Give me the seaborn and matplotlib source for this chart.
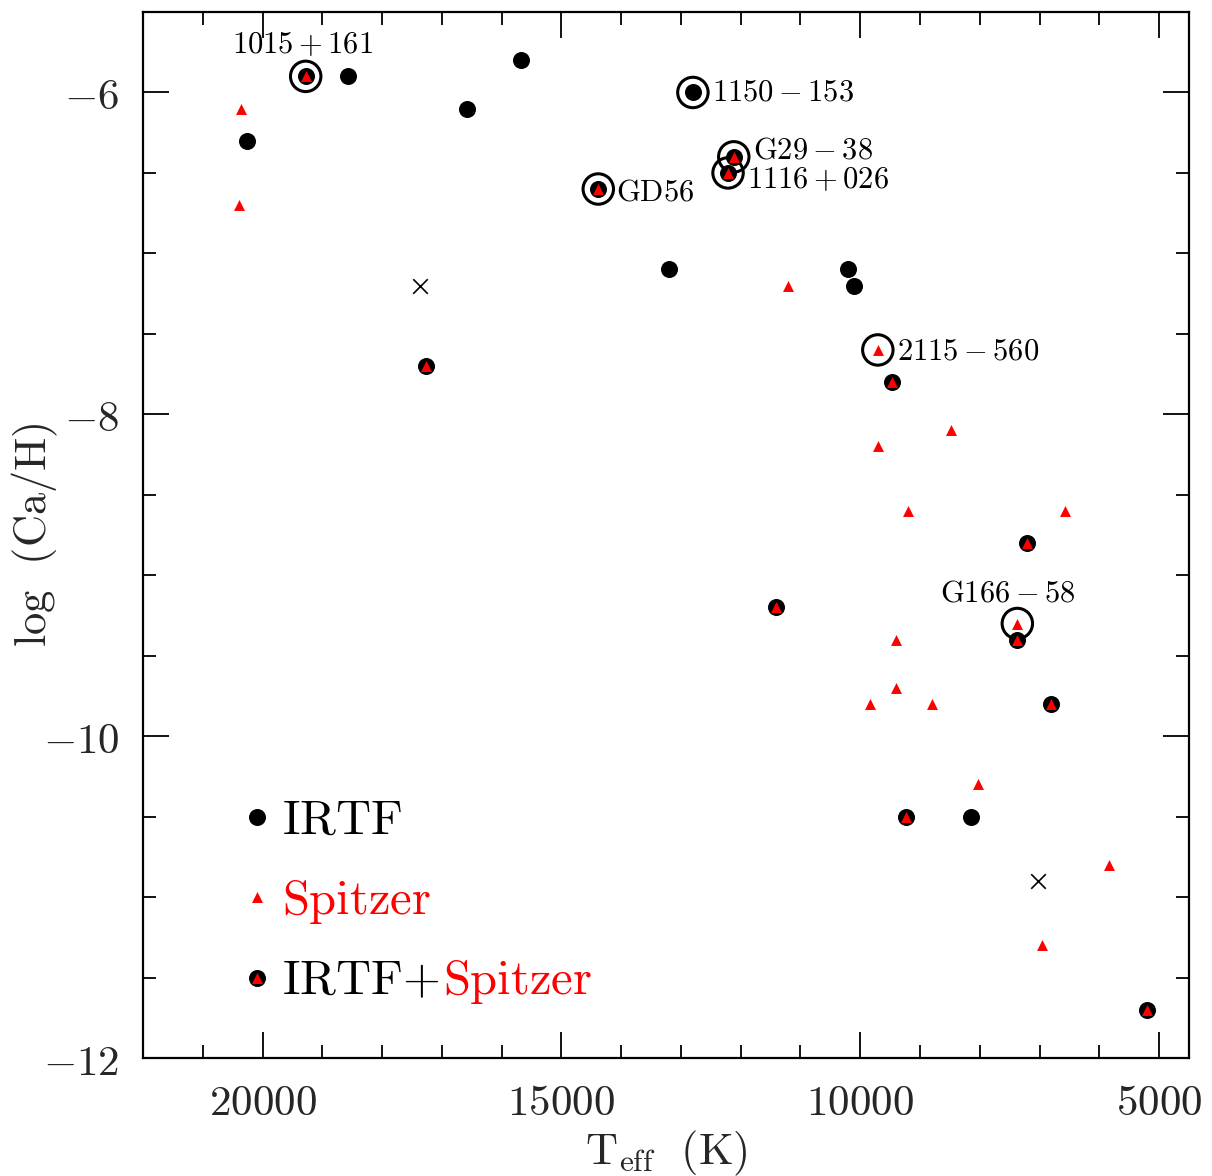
import matplotlib
matplotlib.use("Agg")
import matplotlib.pyplot as plt
import seaborn as sns
import pandas as pd
from matplotlib.ticker import MultipleLocator

# ---------------- data ----------------
irtf_teff = [18572, 20262, 16572, 15672, 12800, 13203, 10211, 10102, 8150]
irtf_ca = [-5.90, -6.30, -6.10, -5.80, -6.00, -7.10, -7.10, -7.20, -10.50]

spitzer_teff = [20367, 20395, 11202, 9706, 8483, 9695, 9195, 6578, 7372,
                9395, 9395, 9845, 8795, 8030, 5840, 6955]
spitzer_ca = [-6.10, -6.70, -7.20, -7.60, -8.10, -8.20, -8.60, -8.60, -9.30,
              -9.40, -9.70, -9.80, -9.80, -10.30, -10.80, -11.30]

both_teff = [19278, 17272, 14383, 12116, 12212, 9476, 7205, 11412, 7378,
             6805, 9230, 5205]
both_ca = [-5.90, -7.70, -6.60, -6.40, -6.50, -7.80, -8.80, -9.20, -9.40,
           -9.80, -10.50, -11.70]

cross_teff = [17372, 7033]
cross_ca = [-7.20, -10.90]

circled_names = ["1015+161", "1150-153", "G29-38", "1116+026", "GD56",
                 "2115-560", "G166-58"]
circled_teff = [19278, 12800, 12116, 12212, 14383, 9706, 7372]
circled_ca = [-5.90, -6.00, -6.40, -6.50, -6.60, -7.60, -9.30]

x_ticks = [20000, 15000, 10000, 5000]
x_tick_labels = ["20000", "15000", "10000", "5000"]
y_ticks = [-12, -10, -8, -6]
y_tick_labels = ["-12", "-10", "-8", "-6"]

legend_teff = [20100, 20100, 20100]
legend_ca = [-10.5, -11.0, -11.5]

# ---------------- style ----------------
sns.set_theme(style="ticks")
plt.rcParams["mathtext.fontset"] = "cm"
plt.rcParams["font.family"] = ["DejaVu Serif"]

fig = plt.figure(figsize=(12.12, 11.76), dpi=100)
ax = fig.add_axes([143 / 1212, 1 - 1058 / 1176, (1189 - 143) / 1212, (1058 - 12) / 1176])

dot_s = 150
tri_s = 62
ring_s = 480

df_irtf = pd.DataFrame({"teff": irtf_teff, "ca": irtf_ca})
df_sp = pd.DataFrame({"teff": spitzer_teff, "ca": spitzer_ca})
df_both = pd.DataFrame({"teff": both_teff, "ca": both_ca})
df_cross = pd.DataFrame({"teff": cross_teff, "ca": cross_ca})
df_circ = pd.DataFrame({"teff": circled_teff, "ca": circled_ca})

sns.scatterplot(data=df_circ, x="teff", y="ca", ax=ax, marker="o", s=ring_s,
                facecolor="none", edgecolor="black", linewidth=2.2, zorder=2)
sns.scatterplot(data=df_irtf, x="teff", y="ca", ax=ax, marker="o", s=dot_s,
                color="black", edgecolor="black", linewidth=0, zorder=3)
sns.scatterplot(data=df_both, x="teff", y="ca", ax=ax, marker="o", s=dot_s,
                color="black", edgecolor="black", linewidth=0, zorder=3)
sns.scatterplot(data=df_both, x="teff", y="ca", ax=ax, marker="^", s=tri_s,
                color="red", edgecolor="red", linewidth=0, zorder=4)
sns.scatterplot(data=df_sp, x="teff", y="ca", ax=ax, marker="^", s=tri_s,
                color="red", edgecolor="red", linewidth=0, zorder=4)
sns.scatterplot(data=df_cross, x="teff", y="ca", ax=ax, marker="x", s=110,
                color="black", linewidth=1.2, zorder=4)

# legend drawn as points in data space
ax.scatter(legend_teff[0], legend_ca[0], marker="o", s=dot_s, color="black", lw=0, zorder=3)
ax.scatter(legend_teff[1], legend_ca[1], marker="^", s=tri_s, color="red", lw=0, zorder=4)
ax.scatter(legend_teff[2], legend_ca[2], marker="o", s=dot_s, color="black", lw=0, zorder=3)
ax.scatter(legend_teff[2], legend_ca[2], marker="^", s=tri_s, color="red", lw=0, zorder=4)

lfs = 35
dx, dy = 18, -12
ax.annotate(r"$\mathrm{IRTF}$", (legend_teff[0], legend_ca[0]), xytext=(dx, dy),
            textcoords="offset points", va="baseline", ha="left", fontsize=lfs, color="black")
ax.annotate(r"$\mathrm{Spitzer}$", (legend_teff[1], legend_ca[1]), xytext=(dx, dy),
            textcoords="offset points", va="baseline", ha="left", fontsize=lfs, color="red")
t1 = ax.annotate(r"$\mathrm{IRTF}{+}$", (legend_teff[2], legend_ca[2]), xytext=(dx, dy),
                 textcoords="offset points", va="baseline", ha="left", fontsize=lfs, color="black")
fig.canvas.draw()
w_pt = t1.get_window_extent(fig.canvas.get_renderer()).width * 72 / fig.dpi
ax.annotate(r"$\mathrm{Spitzer}$", (legend_teff[2], legend_ca[2]), xytext=(dx + w_pt + 3, dy),
            textcoords="offset points", va="baseline", ha="left", fontsize=lfs, color="red")

# star name labels
afs = 22
label_offsets = {
    "1015+161": ((-2, 12), "center", "bottom"),
    "1150-153": ((14, 0), "left", "center"),
    "G29-38": ((14, 5), "left", "center"),
    "1116+026": ((14, -5), "left", "center"),
    "GD56": ((13, -2), "left", "center"),
    "2115-560": ((14, -1), "left", "center"),
    "G166-58": ((-7, 11), "center", "bottom"),
}
for name, t, c in zip(circled_names, circled_teff, circled_ca):
    off, ha, va = label_offsets[name]
    ax.annotate(r"$\mathrm{" + name + "}$", (t, c), xytext=off, textcoords="offset points",
                ha=ha, va=va, fontsize=afs, color="black")

# axes
ax.set_xlim(22000, 4500)
ax.set_ylim(-12, -5.5)
ax.set_xticks(x_ticks)
ax.set_xticklabels([r"$\mathrm{" + s + "}$" for s in x_tick_labels])
ax.set_yticks(y_ticks)
ax.set_yticklabels([r"$" + s + "$" for s in y_tick_labels])
ax.xaxis.set_minor_locator(MultipleLocator(1000))
ax.yaxis.set_minor_locator(MultipleLocator(0.5))
ax.tick_params(which="both", direction="in", top=True, right=True, width=1.3, color="black")
ax.tick_params(which="major", length=19, labelsize=31, pad=17)
ax.tick_params(which="minor", length=9.5)
for sp in ax.spines.values():
    sp.set_linewidth(1.6)
    sp.set_color("black")

ax.set_xlabel(r"$\mathrm{T_{eff}\ \ (K)}$", fontsize=32)
ax.set_ylabel(r"$\mathrm{log\ \ (Ca/H)}$", fontsize=32)
ax.xaxis.set_label_coords(0.5, -0.068)
ax.yaxis.set_label_coords(-0.079, 0.5)

fig.savefig("out.png", dpi=100)
